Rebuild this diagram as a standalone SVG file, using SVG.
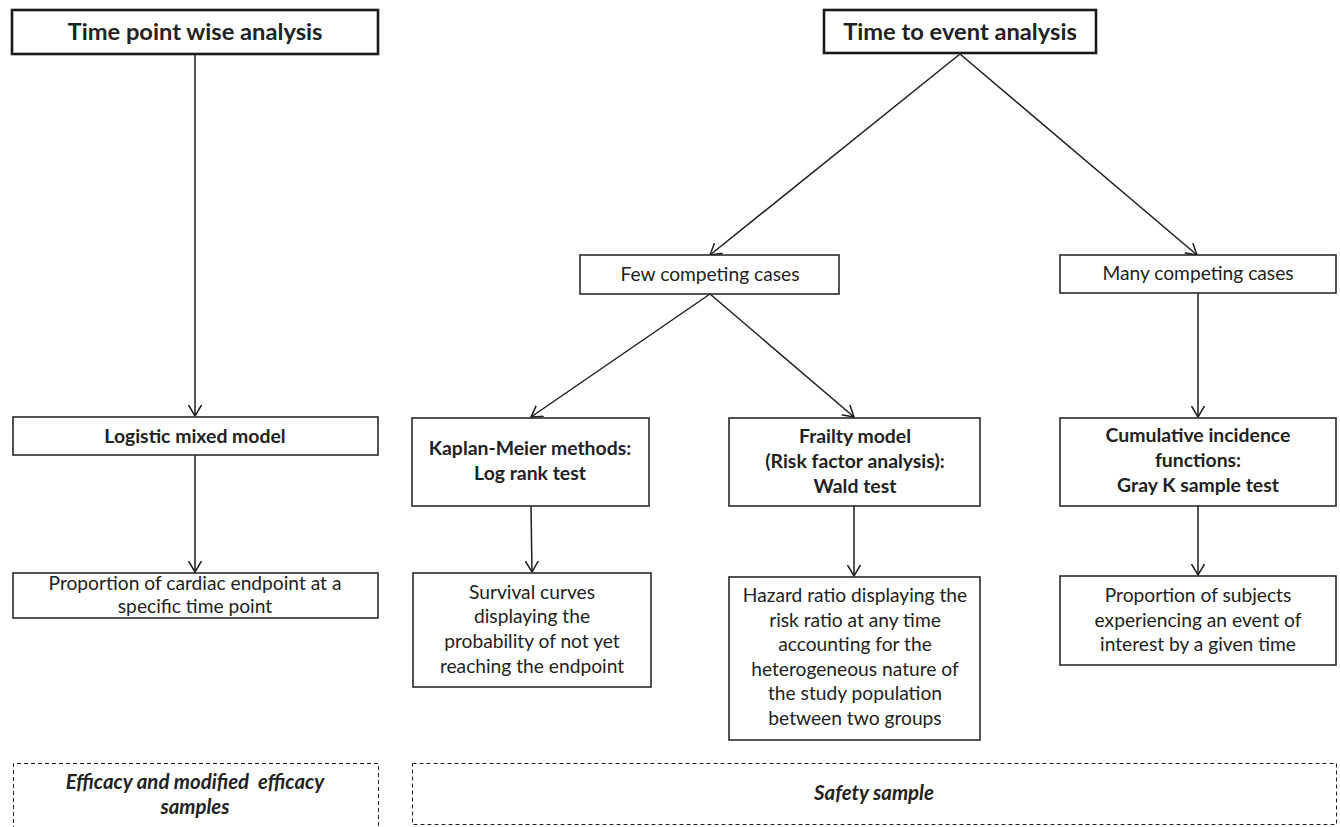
<svg xmlns="http://www.w3.org/2000/svg" width="1340" height="827" viewBox="0 0 1340 827">
<style>
.box{fill:#fff;stroke:#2a2a2a;stroke-width:1.6}
.top{fill:#fff;stroke:#1a1a1a;stroke-width:2.6}
.dash{fill:none;stroke:#222;stroke-width:1;stroke-dasharray:4 3}
.t{font-family:Lato,"Liberation Sans",sans-serif;fill:#222;text-anchor:middle}
.title{font-size:23.7px;font-weight:bold}
.b{font-size:19.4px;font-weight:bold}
.r{font-size:19.2px}
.i{font-size:20.4px;font-weight:bold;font-style:italic}
.c{stroke:#1e1e1e;stroke-width:1.5;fill:none}
</style>
<defs>
<marker id="arr" viewBox="0 0 12 14" refX="11" refY="7" markerWidth="12" markerHeight="14" markerUnits="userSpaceOnUse" orient="auto">
<path d="M0,0.5 L11,7 L0,13.5" fill="none" stroke="#1e1e1e" stroke-width="1.5"/>
</marker>
</defs>
<rect width="1340" height="827" fill="#fff"/>
<g id="connectors">
<line class="c" x1="195" y1="54" x2="195" y2="416" marker-end="url(#arr)"/>
<line class="c" x1="195" y1="455" x2="195" y2="572" marker-end="url(#arr)"/>
<line class="c" x1="960" y1="54" x2="710" y2="255" marker-end="url(#arr)"/>
<line class="c" x1="960" y1="54" x2="1197" y2="255" marker-end="url(#arr)"/>
<line class="c" x1="710" y1="294" x2="531" y2="417" marker-end="url(#arr)"/>
<line class="c" x1="710" y1="294" x2="854" y2="417" marker-end="url(#arr)"/>
<line class="c" x1="531" y1="506" x2="532" y2="572" marker-end="url(#arr)"/>
<line class="c" x1="854" y1="506" x2="854" y2="576" marker-end="url(#arr)"/>
<line class="c" x1="1198" y1="293" x2="1198" y2="417" marker-end="url(#arr)"/>
<line class="c" x1="1198" y1="506" x2="1198" y2="575" marker-end="url(#arr)"/>
</g>
<g id="n-timepoint">
<rect class="top" x="12" y="10" width="366" height="44"/>
<text class="t title" x="195" y="40">Time point wise analysis</text>
</g>
<g id="n-timetoevent">
<rect class="top" x="824" y="10" width="272" height="43"/>
<text class="t title" x="960" y="40">Time to event analysis</text>
</g>
<g id="n-logistic">
<rect class="box" x="13" y="417" width="365" height="38"/>
<text class="t b" x="195" y="443">Logistic mixed model</text>
</g>
<g id="n-proportion-cardiac">
<rect class="box" x="13" y="573" width="365" height="45"/>
<text class="t r" x="195" y="590">Proportion of cardiac endpoint at a</text>
<text class="t r" x="195" y="613">specific time point</text>
</g>
<g id="n-few">
<rect class="box" x="580" y="255" width="259" height="39"/>
<text class="t r" x="710" y="281">Few competing cases</text>
</g>
<g id="n-many">
<rect class="box" x="1060" y="255" width="276" height="38"/>
<text class="t r" x="1198" y="280">Many competing cases</text>
</g>
<g id="n-kaplan">
<rect class="box" x="412" y="418" width="237" height="88"/>
<text class="t b" x="530" y="455">Kaplan-Meier methods:</text>
<text class="t b" x="530" y="480">Log rank test</text>
</g>
<g id="n-frailty">
<rect class="box" x="729" y="418" width="251" height="88"/>
<text class="t b" x="855" y="443">Frailty model</text>
<text class="t b" x="855" y="468">(Risk factor analysis):</text>
<text class="t b" x="855" y="493">Wald test</text>
</g>
<g id="n-cumulative">
<rect class="box" x="1060" y="418" width="276" height="88"/>
<text class="t b" x="1198" y="442">Cumulative incidence</text>
<text class="t b" x="1198" y="467">functions:</text>
<text class="t b" x="1198" y="492">Gray K sample test</text>
</g>
<g id="n-survival">
<rect class="box" x="413" y="573" width="238" height="114"/>
<text class="t r" x="532" y="599">Survival curves</text>
<text class="t r" x="532" y="623">displaying the</text>
<text class="t r" x="532" y="648">probability of not yet</text>
<text class="t r" x="532" y="673">reaching the endpoint</text>
</g>
<g id="n-hazard">
<rect class="box" x="729" y="577" width="251" height="163"/>
<text class="t r" x="855" y="602">Hazard ratio displaying the</text>
<text class="t r" x="855" y="627">risk ratio at any time</text>
<text class="t r" x="855" y="651">accounting for the</text>
<text class="t r" x="855" y="676">heterogeneous nature of</text>
<text class="t r" x="855" y="700">the study population</text>
<text class="t r" x="855" y="725">between two groups</text>
</g>
<g id="n-proportion-subjects">
<rect class="box" x="1060" y="576" width="276" height="89"/>
<text class="t r" x="1198" y="602">Proportion of subjects</text>
<text class="t r" x="1198" y="627">experiencing an event of</text>
<text class="t r" x="1198" y="651">interest by a given time</text>
</g>
<g id="n-efficacy">
<path class="dash" d="M13.5,830 L13.5,763.5 L378.5,763.5 L378.5,830"/>
<text class="t i" x="195" y="789" xml:space="preserve">Efficacy and modified  efficacy</text>
<text class="t i" x="195" y="814">samples</text>
</g>
<g id="n-safety">
<rect class="dash" x="412.5" y="763.5" width="924" height="61"/>
<text class="t i" x="874" y="800">Safety sample</text>
</g>
</svg>
